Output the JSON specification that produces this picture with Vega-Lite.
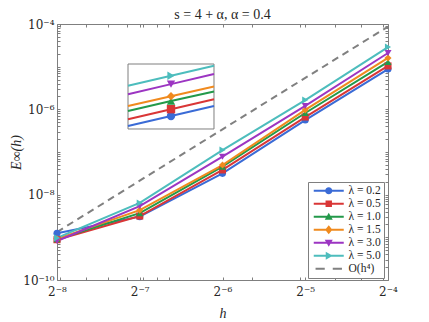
{
  "$schema": "https://vega.github.io/schema/vega-lite/v6.json",
  "autosize": "none",
  "width": 331,
  "height": 256,
  "padding": {"left": 57, "top": 24, "right": 41, "bottom": 42},
  "title": {"text": "s = 4 + α, α = 0.4", "font": "Liberation Serif", "fontSize": 14, "fontWeight": "normal", "color": "#262626", "offset": 5, "dy": 9},
  "config": {
    "view": {"stroke": "#7f7f7f", "strokeWidth": 1},
    "font": "Liberation Serif",
    "axis": {"domain": false, "grid": false, "tickColor": "#7f7f7f", "tickWidth": 1, "labelColor": "#262626", "titleColor": "#262626", "labelFont": "DejaVu Serif", "titleFont": "Liberation Serif", "labelFontSize": 12, "labelOverlap": false, "labelBound": false, "labelFlush": false}
  },
  "datasets": {
    "err": [
      {"h": 0.00390625, "E": 1.24e-9, "lam": "λ = 0.2"},
      {"h": 0.0078125, "E": 3.05e-9, "lam": "λ = 0.2"},
      {"h": 0.015625, "E": 3.16e-8, "lam": "λ = 0.2"},
      {"h": 0.03125, "E": 5.6e-7, "lam": "λ = 0.2"},
      {"h": 0.0625, "E": 8.8e-6, "lam": "λ = 0.2"},
      {"h": 0.00390625, "E": 8.8e-10, "lam": "λ = 0.5"},
      {"h": 0.0078125, "E": 3.16e-9, "lam": "λ = 0.5"},
      {"h": 0.015625, "E": 3.8e-8, "lam": "λ = 0.5"},
      {"h": 0.03125, "E": 6.6e-7, "lam": "λ = 0.5"},
      {"h": 0.0625, "E": 1.04e-5, "lam": "λ = 0.5"},
      {"h": 0.00390625, "E": 9.0e-10, "lam": "λ = 1.0"},
      {"h": 0.0078125, "E": 3.7e-9, "lam": "λ = 1.0"},
      {"h": 0.015625, "E": 4.53e-8, "lam": "λ = 1.0"},
      {"h": 0.03125, "E": 8.2e-7, "lam": "λ = 1.0"},
      {"h": 0.0625, "E": 1.29e-5, "lam": "λ = 1.0"},
      {"h": 0.00390625, "E": 9.2e-10, "lam": "λ = 1.5"},
      {"h": 0.0078125, "E": 4.35e-9, "lam": "λ = 1.5"},
      {"h": 0.015625, "E": 4.95e-8, "lam": "λ = 1.5"},
      {"h": 0.03125, "E": 9.7e-7, "lam": "λ = 1.5"},
      {"h": 0.0625, "E": 1.6e-5, "lam": "λ = 1.5"},
      {"h": 0.00390625, "E": 8.2e-10, "lam": "λ = 3.0"},
      {"h": 0.0078125, "E": 5.4e-9, "lam": "λ = 3.0"},
      {"h": 0.015625, "E": 7.76e-8, "lam": "λ = 3.0"},
      {"h": 0.03125, "E": 1.2e-6, "lam": "λ = 3.0"},
      {"h": 0.0625, "E": 2.09e-5, "lam": "λ = 3.0"},
      {"h": 0.00390625, "E": 9.7e-10, "lam": "λ = 5.0"},
      {"h": 0.0078125, "E": 6.4e-9, "lam": "λ = 5.0"},
      {"h": 0.015625, "E": 1.11e-7, "lam": "λ = 5.0"},
      {"h": 0.03125, "E": 1.65e-6, "lam": "λ = 5.0"},
      {"h": 0.0625, "E": 2.88e-5, "lam": "λ = 5.0"}
    ],
    "ref": [
      {"h": 0.00390625, "E": 1.33e-9},
      {"h": 0.0078125, "E": 2.13e-8},
      {"h": 0.015625, "E": 3.4e-7},
      {"h": 0.03125, "E": 5.45e-6},
      {"h": 0.0625, "E": 8.7e-5}
    ],
    "inset": [
      {"u": 0, "v": 0.046, "lam": "λ = 0.2"}, {"u": 0.5, "v": 0.20, "lam": "λ = 0.2"}, {"u": 1, "v": 0.355, "lam": "λ = 0.2"},
      {"u": 0, "v": 0.150, "lam": "λ = 0.5"}, {"u": 0.5, "v": 0.305, "lam": "λ = 0.5"}, {"u": 1, "v": 0.459, "lam": "λ = 0.5"},
      {"u": 0, "v": 0.278, "lam": "λ = 1.0"}, {"u": 0.5, "v": 0.43, "lam": "λ = 1.0"}, {"u": 1, "v": 0.577, "lam": "λ = 1.0"},
      {"u": 0, "v": 0.355, "lam": "λ = 1.5"}, {"u": 0.5, "v": 0.505, "lam": "λ = 1.5"}, {"u": 1, "v": 0.654, "lam": "λ = 1.5"},
      {"u": 0, "v": 0.536, "lam": "λ = 3.0"}, {"u": 0.5, "v": 0.69, "lam": "λ = 3.0"}, {"u": 1, "v": 0.845, "lam": "λ = 3.0"},
      {"u": 0, "v": 0.665, "lam": "λ = 5.0"}, {"u": 0.5, "v": 0.82, "lam": "λ = 5.0"}, {"u": 1, "v": 0.974, "lam": "λ = 5.0"}
    ]
  },
  "layer": [
    {
      "layer": [
        {
          "data": {"name": "ref"},
          "mark": {"type": "line", "strokeDash": [7, 5], "strokeWidth": 2, "color": "#808080"},
          "encoding": {
            "x": {"field": "h", "type": "quantitative", "scale": {"type": "log", "base": 2, "domain": [0.00390625, 0.0625], "nice": false},
              "axis": {"orient": "bottom", "values": [0.00390625, 0.004, 0.005, 0.006, 0.007, 0.0078125, 0.008, 0.009, 0.01, 0.015625, 0.02, 0.03, 0.03125, 0.04, 0.05, 0.06, 0.0625], "tickSize": -3, "labelPadding": 9,
                "labelExpr": "datum.value == 0.0625 ? '2⁻⁴' : datum.value == 0.03125 ? '2⁻⁵' : datum.value == 0.015625 ? '2⁻⁶' : datum.value == 0.0078125 ? '2⁻⁷' : datum.value == 0.00390625 ? '2⁻⁸' : ''",
                "title": "h", "titleFontStyle": "italic", "titleFontWeight": "normal", "titleFontSize": 14, "titleX": 165.5, "titleY": 33, "titleBaseline": "middle", "titleAlign": "center"}},
            "y": {"field": "E", "type": "quantitative", "scale": {"type": "log", "domain": [1e-10, 1e-4], "nice": false},
              "axis": {"orient": "left", "values": [1e-10, 2e-10, 3e-10, 4e-10, 5e-10, 6e-10, 7e-10, 8e-10, 9e-10, 1e-9, 2e-9, 3e-9, 4e-9, 5e-9, 6e-9, 7e-9, 8e-9, 9e-9, 1e-8, 2e-8, 3e-8, 4e-8, 5e-8, 6e-8, 7e-8, 8e-8, 9e-8, 1e-7, 2e-7, 3e-7, 4e-7, 5e-7, 6e-7, 7e-7, 8e-7, 9e-7, 1e-6, 2e-6, 3e-6, 4e-6, 5e-6, 6e-6, 7e-6, 8e-6, 9e-6, 1e-5, 2e-5, 3e-5, 4e-5, 5e-5, 6e-5, 7e-5, 8e-5, 9e-5, 1e-4], "tickSize": -3, "labelPadding": 6,
                "labelExpr": "abs(log(datum.value)/LN10+4)<0.01 ? '10⁻⁴' : abs(log(datum.value)/LN10+6)<0.01 ? '10⁻⁶' : abs(log(datum.value)/LN10+8)<0.01 ? '10⁻⁸' : abs(log(datum.value)/LN10+10)<0.01 ? '10⁻¹⁰' : ''",
                "title": "E∞(h)", "titleFontStyle": "italic", "titleFontWeight": "normal", "titleFontSize": 14, "titleX": -41, "titleY": 128, "titleAngle": -90, "titleAlign": "center", "titleBaseline": "middle"}}
          }
        },
        {
          "data": {"name": "err"},
          "mark": {"type": "line", "strokeWidth": 2},
          "encoding": {
            "x": {"field": "h", "type": "quantitative", "scale": {"type": "log", "base": 2, "domain": [0.00390625, 0.0625], "nice": false},
              "axis": {"orient": "top", "values": [0.00390625, 0.004, 0.005, 0.006, 0.007, 0.0078125, 0.008, 0.009, 0.01, 0.015625, 0.02, 0.03, 0.03125, 0.04, 0.05, 0.06, 0.0625], "tickSize": -3, "labels": false, "title": null}},
            "y": {"field": "E", "type": "quantitative", "scale": {"type": "log", "domain": [1e-10, 1e-4], "nice": false},
              "axis": {"orient": "right", "values": [1e-10, 2e-10, 3e-10, 4e-10, 5e-10, 6e-10, 7e-10, 8e-10, 9e-10, 1e-9, 2e-9, 3e-9, 4e-9, 5e-9, 6e-9, 7e-9, 8e-9, 9e-9, 1e-8, 2e-8, 3e-8, 4e-8, 5e-8, 6e-8, 7e-8, 8e-8, 9e-8, 1e-7, 2e-7, 3e-7, 4e-7, 5e-7, 6e-7, 7e-7, 8e-7, 9e-7, 1e-6, 2e-6, 3e-6, 4e-6, 5e-6, 6e-6, 7e-6, 8e-6, 9e-6, 1e-5, 2e-5, 3e-5, 4e-5, 5e-5, 6e-5, 7e-5, 8e-5, 9e-5, 1e-4], "tickSize": -3, "labels": false, "title": null}},
            "color": {"field": "lam", "type": "nominal", "scale": {"domain": ["λ = 0.2", "λ = 0.5", "λ = 1.0", "λ = 1.5", "λ = 3.0", "λ = 5.0"], "range": ["#3a6bd6", "#d93636", "#23994a", "#f08a1e", "#9c35c2", "#4dbdbd"]}, "legend": null}
          }
        },
        {
          "data": {"name": "err"},
          "mark": {"type": "point", "filled": true, "size": 50, "opacity": 1},
          "encoding": {
            "x": {"field": "h", "type": "quantitative", "scale": {"type": "log", "base": 2, "domain": [0.00390625, 0.0625], "nice": false}, "axis": null},
            "y": {"field": "E", "type": "quantitative", "scale": {"type": "log", "domain": [1e-10, 1e-4], "nice": false}, "axis": null},
            "color": {"field": "lam", "type": "nominal", "scale": {"domain": ["λ = 0.2", "λ = 0.5", "λ = 1.0", "λ = 1.5", "λ = 3.0", "λ = 5.0"], "range": ["#3a6bd6", "#d93636", "#23994a", "#f08a1e", "#9c35c2", "#4dbdbd"]}, "legend": null},
            "shape": {"field": "lam", "type": "nominal", "scale": {"domain": ["λ = 0.2", "λ = 0.5", "λ = 1.0", "λ = 1.5", "λ = 3.0", "λ = 5.0"], "range": ["circle", "square", "triangle-up", "diamond", "triangle-down", "triangle-right"]}, "legend": null}
          }
        }
      ],
      "resolve": {"axis": {"x": "independent", "y": "independent"}}
    },
    {
      "layer": [
        {
          "data": {"values": [{}]},
          "mark": {"type": "rect", "fill": "white", "stroke": "#7f7f7f", "strokeWidth": 1},
          "encoding": {
            "x": {"datum": 0, "type": "quantitative", "scale": {"type": "linear", "domain": [-0.8256, 3.0233], "nice": false, "zero": false}, "axis": null},
            "x2": {"datum": 1},
            "y": {"datum": 0, "type": "quantitative", "scale": {"type": "linear", "domain": [-2.3231, 1.6154], "nice": false, "zero": false}, "axis": null},
            "y2": {"datum": 1}
          }
        },
        {
          "data": {"name": "inset"},
          "mark": {"type": "line", "strokeWidth": 2},
          "encoding": {
            "x": {"field": "u", "type": "quantitative", "scale": {"type": "linear", "domain": [-0.8256, 3.0233], "nice": false, "zero": false}, "axis": null},
            "y": {"field": "v", "type": "quantitative", "scale": {"type": "linear", "domain": [-2.3231, 1.6154], "nice": false, "zero": false}, "axis": null},
            "color": {"field": "lam", "type": "nominal", "scale": {"domain": ["λ = 0.2", "λ = 0.5", "λ = 1.0", "λ = 1.5", "λ = 3.0", "λ = 5.0"], "range": ["#3a6bd6", "#d93636", "#23994a", "#f08a1e", "#9c35c2", "#4dbdbd"]}, "legend": null}
          }
        },
        {
          "data": {"name": "inset"},
          "transform": [{"filter": "datum.u == 0.5"}],
          "mark": {"type": "point", "filled": true, "size": 70, "opacity": 1},
          "encoding": {
            "x": {"field": "u", "type": "quantitative", "scale": {"type": "linear", "domain": [-0.8256, 3.0233], "nice": false, "zero": false}, "axis": null},
            "y": {"field": "v", "type": "quantitative", "scale": {"type": "linear", "domain": [-2.3231, 1.6154], "nice": false, "zero": false}, "axis": null},
            "color": {"field": "lam", "type": "nominal", "scale": {"domain": ["λ = 0.2", "λ = 0.5", "λ = 1.0", "λ = 1.5", "λ = 3.0", "λ = 5.0"], "range": ["#3a6bd6", "#d93636", "#23994a", "#f08a1e", "#9c35c2", "#4dbdbd"]}, "legend": null},
            "shape": {"field": "lam", "type": "nominal", "scale": {"domain": ["λ = 0.2", "λ = 0.5", "λ = 1.0", "λ = 1.5", "λ = 3.0", "λ = 5.0"], "range": ["circle", "square", "triangle-up", "diamond", "triangle-down", "triangle-right"]}, "legend": null}
          }
        }
      ]
    },
    {
      "data": {"name": "err"},
      "transform": [{"filter": "false"}],
      "mark": {"type": "point", "filled": true, "opacity": 1},
      "encoding": {
        "color": {"field": "lam", "type": "nominal",
          "scale": {"domain": ["λ = 0.2", "λ = 0.5", "λ = 1.0", "λ = 1.5", "λ = 3.0", "λ = 5.0", "O(h⁴)"], "range": ["#3a6bd6", "#d93636", "#23994a", "#f08a1e", "#9c35c2", "#4dbdbd", "#808080"]},
          "legend": {"title": null, "orient": "none", "legendX": 251, "legendY": 158, "symbolSize": 64, "symbolOffset": 12, "labelOffset": 14, "padding": 3, "rowPadding": 0, "strokeColor": "#7f7f7f", "fillColor": "white", "labelFont": "Liberation Serif", "labelFontSize": 11.5, "labelColor": "#262626", "symbolStrokeWidth": 0, "symbolOpacity": 1, "labelLimit": 0, "labelExpr": "datum.label + ' '"}},
        "shape": {"field": "lam", "type": "nominal",
          "scale": {"domain": ["λ = 0.2", "λ = 0.5", "λ = 1.0", "λ = 1.5", "λ = 3.0", "λ = 5.0", "O(h⁴)"],
            "range": [
              "M-3.75,-0.25H3.75V0.25H-3.75Z M-0.9,0A0.9,0.9 0 1,1 0.9,0A0.9,0.9 0 1,1 -0.9,0Z",
              "M-3.75,-0.25H3.75V0.25H-3.75Z M-0.8,-0.8H0.8V0.8H-0.8Z",
              "M-3.75,-0.25H3.75V0.25H-3.75Z M0,-1L1,0.75L-1,0.75Z",
              "M-3.75,-0.25H3.75V0.25H-3.75Z M0,-1.1L0.9,0L0,1.1L-0.9,0Z",
              "M-3.75,-0.25H3.75V0.25H-3.75Z M-1,-0.75L1,-0.75L0,1Z",
              "M-3.75,-0.25H3.75V0.25H-3.75Z M-0.75,-1L1,0L-0.75,1Z",
              "M-3.3,-0.25H-1V0.25H-3.3Z M1,-0.25H3.3V0.25H1Z"
            ]},
          "legend": {"title": null, "orient": "none", "legendX": 251, "legendY": 158, "symbolSize": 64, "symbolOffset": 12, "labelOffset": 14, "padding": 3, "rowPadding": 0, "strokeColor": "#7f7f7f", "fillColor": "white", "labelFont": "Liberation Serif", "labelFontSize": 11.5, "labelColor": "#262626", "symbolStrokeWidth": 0, "symbolOpacity": 1, "labelLimit": 0, "labelExpr": "datum.label + ' '"}}
      }
    }
  ],
  "resolve": {"scale": {"x": "independent", "y": "independent", "color": "independent", "shape": "independent"}}
}
